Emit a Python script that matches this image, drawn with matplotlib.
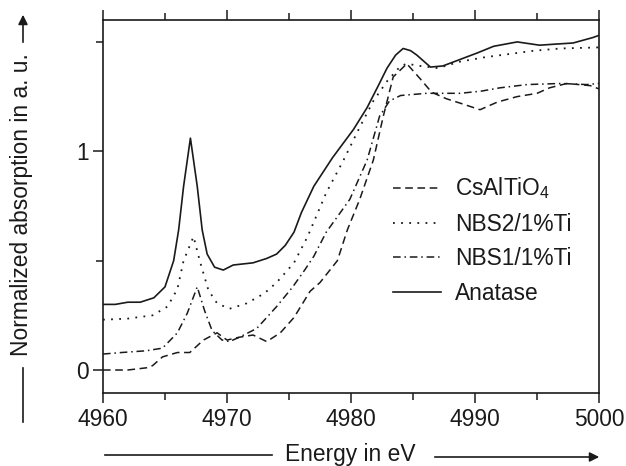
import numpy as np
import matplotlib
matplotlib.use("Agg")
import matplotlib.pyplot as plt
from matplotlib.lines import Line2D

plt.rcParams['font.family'] = ['Liberation Sans', 'DejaVu Sans']
plt.rcParams['mathtext.default'] = 'regular'

# Anatase (solid)
ana_e = [4960, 4961, 4962, 4963, 4964.1, 4965.0, 4965.7, 4966.1, 4966.5, 4967.05,
         4967.6, 4968.0, 4968.4, 4969.0, 4969.7, 4970.5, 4972.1, 4973.2, 4974.0,
         4974.7, 4975.4, 4976.0, 4977.0, 4978.5, 4980.2, 4981.3, 4982.2, 4982.9,
         4983.6, 4984.2, 4984.8, 4985.3, 4986.4, 4987.4, 4988.8, 4990.2, 4991.5,
         4993.4, 4995.2, 4996.5, 4997.9, 4999.5, 5000]
ana_y = [0.30, 0.30, 0.31, 0.31, 0.33, 0.38, 0.50, 0.64, 0.84, 1.06,
         0.84, 0.64, 0.53, 0.47, 0.457, 0.48, 0.49, 0.51, 0.53,
         0.57, 0.63, 0.72, 0.84, 0.97, 1.10, 1.20, 1.30, 1.38,
         1.44, 1.47, 1.46, 1.44, 1.385, 1.39, 1.42, 1.45, 1.48,
         1.50, 1.485, 1.49, 1.495, 1.52, 1.53]

# NBS2/1%Ti (dotted)
nbs2_e = [4960, 4962, 4964.0, 4965.2, 4966.0, 4966.5, 4967.3, 4967.8, 4968.5, 4969.2,
          4970.2, 4971.6, 4973.0, 4974.0, 4975.4, 4976.5, 4978.0, 4979.4, 4980.7,
          4981.8, 4982.9, 4984.0, 4984.5, 4985.6, 4987.0, 4988.8, 4990.8, 4992.8,
          4994.8, 4996.9, 5000]
nbs2_y = [0.23, 0.235, 0.25, 0.29, 0.37, 0.50, 0.61, 0.50, 0.365, 0.305,
          0.28, 0.305, 0.35, 0.40, 0.49, 0.61, 0.81, 0.96, 1.11,
          1.23, 1.32, 1.39, 1.40, 1.39, 1.38, 1.41, 1.43, 1.445,
          1.46, 1.47, 1.475]

# NBS1/1%Ti (dash-dot)
nbs1_e = [4960, 4961.5, 4963.5, 4964.8, 4966.0, 4966.8, 4967.6, 4968.2, 4968.8, 4969.6,
          4970.2, 4971.0, 4972.4, 4974.0, 4975.3, 4976.3, 4977.0, 4978.0, 4979.9,
          4981.3, 4982.3, 4983.1, 4984.0, 4986.1, 4988.8, 4990.5, 4992.0, 4994.2,
          4996.9, 4999.0, 5000]
nbs1_y = [0.073, 0.08, 0.088, 0.10, 0.17, 0.26, 0.38, 0.27, 0.18, 0.137,
          0.13, 0.15, 0.19, 0.29, 0.38, 0.46, 0.52, 0.63, 0.78,
          0.96, 1.16, 1.23, 1.255, 1.265, 1.265, 1.275, 1.29, 1.305,
          1.31, 1.305, 1.31]

# CsAlTiO4 (dashed)
cs_e = [4960, 4962, 4963.5, 4964.0, 4964.8, 4966.0, 4967.0, 4968.1, 4969.2, 4970.0,
        4971.0, 4972.1, 4973.2, 4974.3, 4975.4, 4976.7, 4977.5, 4978.9, 4979.7,
        4980.7, 4981.8, 4982.6, 4983.4, 4984.5, 4985.6, 4986.5, 4987.7, 4988.8,
        4990.4, 4991.8, 4993.4, 4995.0, 4996.0, 4997.4, 4999.3, 5000]
cs_y = [0.0, 0.0, 0.01, 0.02, 0.06, 0.08, 0.08, 0.137, 0.17, 0.137,
        0.15, 0.16, 0.13, 0.17, 0.24, 0.36, 0.40, 0.50, 0.64,
        0.78, 0.96, 1.16, 1.34, 1.40, 1.33, 1.27, 1.24, 1.22,
        1.19, 1.225, 1.25, 1.265, 1.29, 1.31, 1.30, 1.285]

col = '#1a1a1a'
fs = 16.4
fig = plt.figure(figsize=(6.26, 4.66), dpi=100)
ax = fig.add_axes([0.1645, 0.1567, 0.7925, 0.8003])

ax.plot(cs_e, cs_y, color=col, lw=1.1, dashes=(5, 3), label=r'CsAlTiO$_4$')
ax.plot(nbs2_e, nbs2_y, color=col, lw=1.3, dashes=(1, 3.5), label='NBS2/1%Ti')
ax.plot(nbs1_e, nbs1_y, color=col, lw=1.1, dashes=(5, 2.5, 1, 2.5), label='NBS1/1%Ti')
ax.plot(ana_e, ana_y, color=col, lw=1.2, label='Anatase')

ax.set_xlim(4960, 5000)
ax.set_ylim(-0.105, 1.6)
ax.set_xticks([4960, 4970, 4980, 4990, 5000])
ax.set_xticks([4965, 4975, 4985, 4995], minor=True)
ax.set_yticks([0, 1])
ax.set_yticks([0.5, 1.5], minor=True)
ax.tick_params(axis='both', which='both', direction='out', color=col,
               labelsize=fs, labelcolor=col, width=1.1)
ax.tick_params(axis='x', which='both', top=True)
ax.tick_params(which='major', length=7)
ax.tick_params(which='minor', length=5)
for s in ax.spines.values():
    s.set_linewidth(1.2)
    s.set_color(col)

ax.legend(loc='center left', bbox_to_anchor=(0.585, 0.41), frameon=False,
          fontsize=fs, handlelength=2.1, handletextpad=0.6,
          labelspacing=0.5, borderpad=0, borderaxespad=0, labelcolor=col)

# axis labels with arrows
W, H = 626, 466
def fx(px):
    return px / W
def fy(py):
    return 1 - py / H

fig.text(fx(350), fy(455), 'Energy in eV', fontsize=fs, color=col,
         ha='center', va='center')
fig.add_artist(Line2D([fx(105), fx(272)], [fy(455), fy(455)], color=col, lw=1.2))
fig.add_artist(plt.Annotation('', xy=(fx(602), fy(457)), xytext=(fx(432), fy(457)),
                              xycoords='figure fraction', textcoords='figure fraction',
                              arrowprops=dict(arrowstyle='-|>', color=col, lw=1.2,
                                              mutation_scale=14)))

fig.text(fx(22), fy(205), 'Normalized absorption in a. u.', fontsize=fs, color=col,
         ha='center', va='center', rotation=90)
fig.add_artist(Line2D([fx(23), fx(23)], [fy(422), fy(368)], color=col, lw=1.2))
fig.add_artist(plt.Annotation('', xy=(fx(23), fy(12)), xytext=(fx(23), fy(45)),
                              xycoords='figure fraction', textcoords='figure fraction',
                              arrowprops=dict(arrowstyle='-|>', color=col, lw=1.2,
                                              mutation_scale=14)))

fig.savefig('out.png', dpi=100)
